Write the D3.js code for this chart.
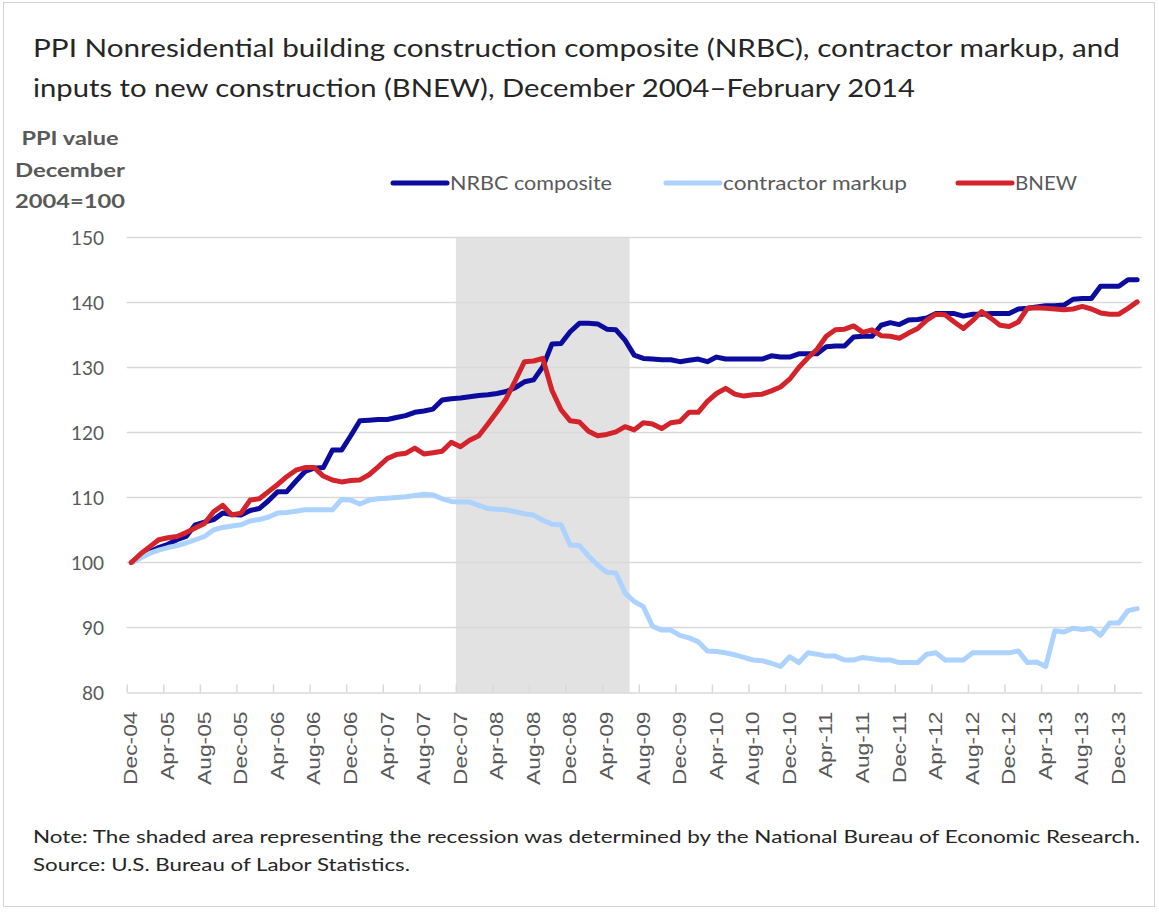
<!DOCTYPE html>
<html>
<head>
<meta charset="utf-8">
<script src="https://cdn.jsdelivr.net/npm/d3@7"></script>
<style>
  html, body { margin: 0; padding: 0; background: #fff; }
  svg { display: block; }
</style>
</head>
<body>
<svg id="chart" width="1159" height="913"></svg>
<script>
// ---------------- DATA ----------------
const titleLines = [
  "PPI Nonresidential building construction composite (NRBC), contractor markup, and",
  "inputs to new construction (BNEW), December 2004\u2013February 2014"
];
const yTitleLines = ["PPI value", "December", "2004=100"];
const seriesNames = ["NRBC composite", "contractor markup", "BNEW"];
const seriesColors = ["#0b0b9e", "#acd2ff", "#d3242b"];

// Monthly, Dec-04 .. Feb-14 (111 months)
const nrbc = [
  100.0,100.8,101.6,102.3,102.8,103.5,104.0,105.8,106.2,106.6,
  107.6,107.4,107.3,108.0,108.3,109.5,110.9,110.9,112.5,114.0,
  114.5,114.6,117.3,117.3,119.5,121.8,121.9,122.0,122.0,122.3,
  122.6,123.1,123.3,123.6,125.0,125.2,125.3,125.5,125.7,125.8,
  126.0,126.3,126.9,127.8,128.1,130.1,133.6,133.7,135.5,136.8,
  136.8,136.7,135.9,135.8,134.2,131.9,131.4,131.3,131.2,131.2,
  130.9,131.1,131.3,130.9,131.6,131.3,131.3,131.3,131.3,131.3,
  131.8,131.6,131.6,132.1,132.1,132.1,133.2,133.3,133.3,134.7,
  134.8,134.8,136.5,136.9,136.6,137.3,137.4,137.6,138.3,138.3,
  138.3,137.9,138.2,138.2,138.3,138.3,138.3,139.0,139.1,139.3,
  139.5,139.5,139.6,140.5,140.6,140.6,142.5,142.5,142.5,143.5,
  143.5
];
const markup = [
  100.0,100.7,101.4,101.9,102.3,102.6,103.0,103.5,104.0,105.0,
  105.4,105.6,105.8,106.4,106.6,107.0,107.6,107.7,107.9,108.1,
  108.1,108.1,108.1,109.7,109.6,109.0,109.6,109.8,109.9,110.0,
  110.1,110.3,110.5,110.4,109.8,109.4,109.3,109.3,108.8,108.3,
  108.2,108.1,107.8,107.5,107.3,106.5,105.9,105.8,102.7,102.6,
  101.0, 99.6, 98.5, 98.4, 95.3, 94.0, 93.2, 90.2, 89.6, 89.6,
   88.8, 88.4, 87.8, 86.4, 86.3, 86.1, 85.8, 85.4, 85.0, 84.9,
   84.5, 84.0, 85.5, 84.6, 86.1, 85.9, 85.6, 85.6, 85.0, 85.0,
   85.4, 85.2, 85.0, 85.0, 84.6, 84.6, 84.6, 85.9, 86.1, 85.0,
   85.0, 85.0, 86.1, 86.1, 86.1, 86.1, 86.1, 86.4, 84.6, 84.7,
   84.0, 89.5, 89.3, 89.9, 89.7, 89.9, 88.8, 90.7, 90.7, 92.6,
   92.9
];
const bnew = [
  100.0,101.3,102.4,103.5,103.8,104.0,104.6,105.3,106.0,107.8,
  108.8,107.3,107.6,109.6,109.8,110.9,112.0,113.2,114.2,114.6,
  114.6,113.3,112.7,112.4,112.6,112.7,113.5,114.7,116.0,116.6,
  116.8,117.6,116.7,116.9,117.1,118.5,117.8,118.8,119.5,121.3,
  123.2,125.2,128.0,130.9,131.0,131.4,126.5,123.5,121.8,121.6,
  120.2,119.5,119.7,120.1,120.9,120.4,121.5,121.3,120.6,121.5,
  121.7,123.1,123.1,124.8,126.0,126.8,125.9,125.6,125.8,125.9,
  126.4,127.0,128.2,130.0,131.5,132.8,134.8,135.8,135.9,136.4,
  135.4,135.8,134.9,134.8,134.5,135.3,136.0,137.3,138.2,138.1,
  137.0,136.0,137.2,138.6,137.6,136.5,136.3,137.0,139.1,139.2,
  139.1,139.0,138.9,139.0,139.4,139.0,138.4,138.2,138.2,139.1,
  140.1
];
const seriesValues = [nrbc, markup, bnew];

const xTickLabels = [
  "Dec-04","Apr-05","Aug-05","Dec-05","Apr-06","Aug-06","Dec-06",
  "Apr-07","Aug-07","Dec-07","Apr-08","Aug-08","Dec-08","Apr-09",
  "Aug-09","Dec-09","Apr-10","Aug-10","Dec-10","Apr-11","Aug-11",
  "Dec-11","Apr-12","Aug-12","Dec-12","Apr-13","Aug-13","Dec-13"
];
const yTicks = [80, 90, 100, 110, 120, 130, 140, 150];
// recession: Dec-07 (index 36) through Jun-09 (index 54)
const recession = [36, 54];
const noteLines = [
  "Note: The shaded area representing the recession was determined by the National Bureau of Economic Research.",
  "Source: U.S. Bureau of Labor Statistics."
];

// ---------------- DRAW ----------------
const svg = d3.select("#chart");
const nMonths = nrbc.length;
const x = d3.scaleLinear().domain([-0.5, nMonths - 0.5]).range([126.7, 1141.7]);
const y = d3.scaleLinear().domain([80, 150]).range([692.5, 237.5]);

const textGray = "#595959";
const gridGray = "#d9d9d9";

// outer border
svg.append("rect").attr("x", 3.5).attr("y", 2.5).attr("width", 1151).attr("height", 904)
  .attr("fill", "none").attr("stroke", "#d4d4d4").attr("stroke-width", 1);

// title
titleLines.forEach((t, i) => {
  svg.append("text")
    .attr("x", 33).attr("y", 57 + i * 40)
    .attr("font-family", "Lato, 'Open Sans', sans-serif")
    .attr("font-size", 25)
    .attr("fill", "#262626")
    .attr("textLength", i === 0 ? 1087 : 882)
    .attr("lengthAdjust", "spacingAndGlyphs")
    .text(t);
});

// y title
yTitleLines.forEach((t, i) => {
  svg.append("text")
    .attr("x", 70).attr("y", 145 + i * 31.5)
    .attr("text-anchor", "middle")
    .attr("font-family", "Lato, sans-serif")
    .attr("font-weight", "bold")
    .attr("font-size", 19)
    .attr("fill", textGray)
    .attr("textLength", [97, 110, 110][i])
    .attr("lengthAdjust", "spacingAndGlyphs")
    .text(t);
});

// recession shading
svg.append("rect")
  .attr("x", x(recession[0] - 0.5))
  .attr("y", y(150))
  .attr("width", x(recession[1] + 0.5) - x(recession[0] - 0.5))
  .attr("height", y(80) - y(150))
  .attr("fill", "#e2e2e2");

// gridlines
svg.append("g").selectAll("line").data(yTicks.filter(v => v > 80)).join("line")
  .attr("x1", x.range()[0]).attr("x2", x.range()[1])
  .attr("y1", d => y(d)).attr("y2", d => y(d))
  .attr("stroke", gridGray).attr("stroke-width", 1.5);

// y axis labels
const yAxis = d3.axisLeft(y).tickValues(yTicks).tickSize(0).tickPadding(0).tickFormat(d3.format("d"));
const gy = svg.append("g").attr("transform", `translate(104,0)`).call(yAxis);
gy.select(".domain").remove();
gy.selectAll("text")
  .attr("font-family", "Lato, sans-serif")
  .attr("font-size", 19)
  .attr("fill", textGray)
  .attr("dy", "0.35em");

// x axis
const tickVals = xTickLabels.map((_, i) => i * 4 - 0.5);
const xAxis = d3.axisBottom(x).tickValues(tickVals).tickSizeInner(-8).tickSizeOuter(0)
  .tickFormat((d, i) => xTickLabels[i]);
const gx = svg.append("g").attr("transform", `translate(0,${y(80)})`).call(xAxis);
gx.select(".domain").attr("stroke", gridGray).attr("stroke-width", 1.5);
gx.selectAll(".tick line").attr("stroke", gridGray).attr("stroke-width", 1.5);
gx.selectAll(".tick text")
  .attr("font-family", "'Liberation Sans', Arial, sans-serif")
  .attr("font-size", 19)
  .attr("fill", textGray)
  .attr("text-anchor", "end")
  .attr("dominant-baseline", "central")
  .attr("x", 0).attr("y", 0).attr("dy", null)
  .attr("transform", "translate(3.5,19) rotate(-90) scale(1.2,1)");

// lines
const line = d3.line().x((d, i) => x(i)).y(d => y(d));
seriesValues.forEach((vals, k) => {
  svg.append("path")
    .datum(vals)
    .attr("d", line)
    .attr("fill", "none")
    .attr("stroke", seriesColors[k])
    .attr("stroke-width", 5)
    .attr("stroke-linejoin", "round")
    .attr("stroke-linecap", "round");
});

// legend
const legendX = [393, 666, 958];
const legendLen = [162, 184, 62];
seriesNames.forEach((name, k) => {
  const g = svg.append("g").attr("transform", `translate(${legendX[k]},183)`);
  g.append("line").attr("x1", 0).attr("x2", 54).attr("y1", 0).attr("y2", 0)
    .attr("stroke", seriesColors[k]).attr("stroke-width", 5).attr("stroke-linecap", "round");
  g.append("text").attr("x", 57).attr("y", 7)
    .attr("font-family", "Lato, sans-serif")
    .attr("font-size", 20)
    .attr("fill", textGray)
    .attr("textLength", legendLen[k])
    .attr("lengthAdjust", "spacingAndGlyphs")
    .text(name);
});

// notes
noteLines.forEach((t, i) => {
  svg.append("text")
    .attr("x", 33).attr("y", 843 + i * 28)
    .attr("font-family", "Lato, sans-serif")
    .attr("font-size", 18)
    .attr("fill", "#262626")
    .attr("textLength", i === 0 ? 1107 : 377)
    .attr("lengthAdjust", "spacingAndGlyphs")
    .text(t);
});
</script>
</body>
</html>
